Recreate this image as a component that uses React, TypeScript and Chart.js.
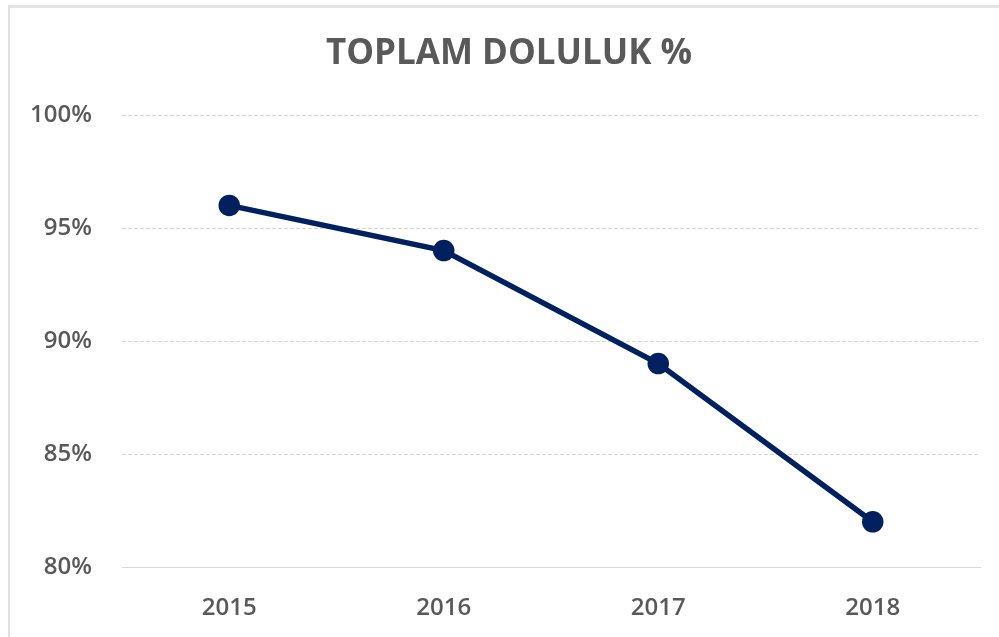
import React, { useEffect, useRef } from "react";
import { Chart, registerables } from "chart.js";

Chart.register(...registerables);

const years = ["2015", "2016", "2017", "2018"];
const occupancy = [96, 94, 89, 82];
const yMin = 80;
const yMax = 100;
const yStep = 5;
const title = "TOPLAM DOLULUK %";

const titlePlugin = {
  id: "offsetTitle",
  afterDraw(c: any) {
    const ctx = c.ctx;
    ctx.save();
    ctx.font = "bold 35px 'Open Sans', sans-serif";
    ctx.fillStyle = "#595959";
    ctx.textAlign = "center";
    ctx.textBaseline = "middle";
    ctx.fillText(title, 509, 54);
    ctx.restore();
  },
};

export default function App() {
  const ref = useRef<HTMLCanvasElement | null>(null);
  useEffect(() => {
    if (!ref.current) return;
    const chart = new Chart(ref.current, {
      type: "line",
      data: {
        labels: years,
        datasets: [
          {
            data: occupancy,
            borderColor: "#002060",
            backgroundColor: "#002060",
            borderWidth: 5.5,
            pointRadius: 8,
            pointHoverRadius: 8,
            pointBackgroundColor: "#002060",
            pointBorderColor: "#002060",
            tension: 0,
          },
        ],
      },
      options: {
        responsive: false,
        animation: false,
        layout: { padding: { left: 0, right: 19, top: 115, bottom: 0 } },
        plugins: {
          legend: { display: false },
          tooltip: { enabled: false },
          title: { display: false },
        },
        scales: {
          x: {
            offset: true,
            grid: { display: false, drawTicks: false },
            border: { display: true, color: "#d9d9d9", width: 1 },
            ticks: {
              color: "#595959",
              font: { family: "'Open Sans', sans-serif", size: 24, weight: 600, lineHeight: 1.2 },
              padding: 27,
            },
            afterFit: (s: any) => {
              s.height = 70;
            },
          },
          y: {
            min: yMin,
            max: yMax,
            grid: { color: "#d6d6d6", drawTicks: false },
            border: { display: false, dash: [4, 2] },
            ticks: {
              stepSize: yStep,
              color: "#595959",
              font: { family: "'Open Sans', sans-serif", size: 24, weight: 600, lineHeight: 1.2 },
              padding: 30,
              callback: (v: any) => v + "%",
            },
            afterFit: (s: any) => {
              s.width = 122;
            },
          },
        },
      },
      plugins: [titlePlugin],
    });
    return () => chart.destroy();
  }, []);
  return (
    <div style={{ position: "absolute", left: 0, top: 0, width: 999, height: 637, overflow: "hidden", background: "#fff" }}>
      <div
        style={{
          position: "absolute",
          left: 8,
          top: 5,
          width: 1000,
          height: 640,
          borderLeft: "2px solid #e0e0e0",
          borderTop: "3px solid #e3e3e3",
        }}
      />
      <canvas ref={ref} width={999} height={637} style={{ position: "absolute", left: 0, top: 0 }} />
    </div>
  );
}
